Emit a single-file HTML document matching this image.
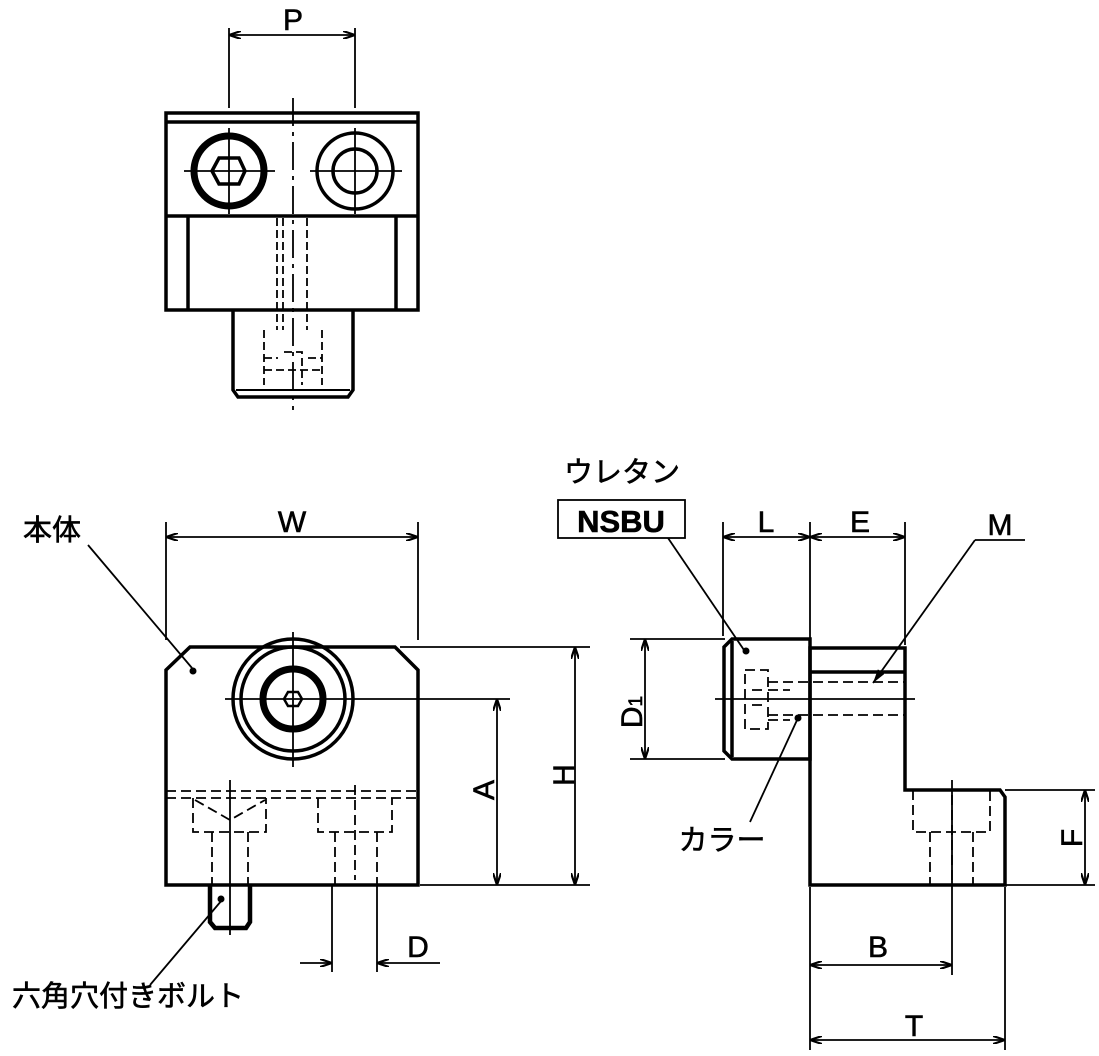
<!DOCTYPE html>
<html><head><meta charset="utf-8"><style>
html,body{margin:0;padding:0;background:#fff;}
svg{display:block;}
text{font-family:"Liberation Sans","Noto Sans CJK JP",sans-serif;fill:#000;stroke:#000;stroke-width:0.6;}
</style></head><body>
<svg width="1099" height="1056" viewBox="0 0 1099 1056" xmlns="http://www.w3.org/2000/svg">
<defs>
<marker id="a" viewBox="0 0 12 8" refX="12" refY="4" markerWidth="12" markerHeight="8" orient="auto-start-reverse" markerUnits="userSpaceOnUse">
<path d="M0,0 L12,4 L0,8" fill="none" stroke="#000" stroke-width="2.2"/></marker>
<marker id="f" viewBox="0 0 14 8" refX="14" refY="4" markerWidth="14" markerHeight="8" orient="auto" markerUnits="userSpaceOnUse">
<path d="M0,0 L14,4 L0,8z" fill="#000"/></marker>
</defs>
<g fill="none" stroke="#000">
<!-- TOP VIEW -->
<g stroke-width="1.8">
<line x1="229" y1="28" x2="229" y2="108"/><line x1="355" y1="28" x2="355" y2="108"/>
<line x1="229" y1="35" x2="355" y2="35" marker-start="url(#a)" marker-end="url(#a)"/>
<line x1="293" y1="98" x2="293" y2="410" stroke-dasharray="28,6,4,6"/>
<line x1="184" y1="171" x2="275" y2="171"/><line x1="229" y1="128" x2="229" y2="214"/>
<line x1="310" y1="171" x2="402" y2="171"/><line x1="355" y1="128" x2="355" y2="214"/>
</g>
<g stroke-width="3.5">
<rect x="166" y="113" width="252" height="197"/>
<line x1="166" y1="122" x2="418" y2="122"/>
<line x1="166" y1="216" x2="418" y2="216"/>
<line x1="188" y1="216" x2="188" y2="310"/><line x1="396" y1="216" x2="396" y2="310"/>
<circle cx="229" cy="171" r="35" stroke-width="7"/>
<polygon points="212,171 219,158 239,158 245,171 239,184 219,184"/>
<circle cx="355" cy="171" r="38"/><circle cx="355" cy="171" r="22"/>
<path d="M233,310 V390 L238,397 H348 L353,390 V310"/>
<line x1="236" y1="390" x2="350" y2="390" stroke-width="2"/>
</g>
<g stroke-width="1.8" stroke-dasharray="8,4">
<line x1="277" y1="218" x2="277" y2="330"/><line x1="307" y1="218" x2="307" y2="330"/>
<line x1="283" y1="218" x2="283" y2="330"/>
<path d="M264,330 V385 M322,330 V385 M264,358 H278 M308,358 H322 M284,352 H302 V385 M264,370 H322"/>
</g>
<!-- FRONT VIEW -->
<g stroke-width="1.8">
<line x1="166" y1="522" x2="166" y2="640"/><line x1="418" y1="522" x2="418" y2="640"/>
<line x1="166" y1="537" x2="418" y2="537" marker-start="url(#a)" marker-end="url(#a)"/>
<line x1="400" y1="647" x2="590" y2="647"/><line x1="420" y1="885" x2="590" y2="885"/>
<line x1="575" y1="647" x2="575" y2="885" marker-start="url(#a)" marker-end="url(#a)"/>
<line x1="225" y1="699" x2="510" y2="699"/>
<line x1="497" y1="699" x2="497" y2="885" marker-start="url(#a)" marker-end="url(#a)"/>
<line x1="293" y1="632" x2="293" y2="767"/>
<line x1="332" y1="885" x2="332" y2="972"/><line x1="377" y1="885" x2="377" y2="972"/>
<line x1="300" y1="963" x2="332" y2="963" marker-end="url(#a)"/>
<line x1="440" y1="963" x2="377" y2="963" marker-end="url(#a)"/>
<line x1="88" y1="545" x2="192" y2="668"/>
<line x1="150" y1="985" x2="222" y2="900"/>
<line x1="230" y1="780" x2="230" y2="935"/>
</g>
<circle cx="193" cy="671" r="3.5" fill="#000" stroke="none"/>
<circle cx="221" cy="899" r="3.5" fill="#000" stroke="none"/>
<g stroke-width="3.5">
<path d="M166,885 V670 L190,647 H395 L418,670 V885 Z"/>
<circle cx="293" cy="699" r="60"/><circle cx="293" cy="699" r="52"/>
<circle cx="293" cy="699" r="30" stroke-width="7"/>
<polygon points="284,699 288,692 298,692 302,699 298,706 288,706" stroke-width="2.5"/>
<path d="M210,885 V922 L215,928 H246 L250,922 V885" stroke-width="4.5"/>
</g>
<g stroke-width="1.8" stroke-dasharray="10,5">
<line x1="166" y1="791" x2="418" y2="791"/><line x1="166" y1="798" x2="418" y2="798"/>
<path d="M193,798 V832 H266 V798 M212,832 V885 M248,832 V885 M195,800 L230,820 L265,800"/>
<path d="M318,798 V832 H392 V798 M335,832 V885 M377,832 V885 M355,785 V880"/>
</g>
<!-- SIDE VIEW -->
<g stroke-width="1.8">
<line x1="723" y1="522" x2="723" y2="636"/><line x1="810" y1="522" x2="810" y2="645"/><line x1="905" y1="522" x2="905" y2="645"/>
<line x1="723" y1="537" x2="810" y2="537" marker-start="url(#a)" marker-end="url(#a)"/>
<line x1="810" y1="537" x2="905" y2="537" marker-start="url(#a)" marker-end="url(#a)"/>
<line x1="630" y1="639" x2="725" y2="639"/><line x1="630" y1="759" x2="725" y2="759"/>
<line x1="645" y1="639" x2="645" y2="759" marker-start="url(#a)" marker-end="url(#a)"/>
<line x1="715" y1="699" x2="915" y2="699"/>
<line x1="1005" y1="790" x2="1095" y2="790"/><line x1="1005" y1="885" x2="1095" y2="885"/>
<line x1="1085" y1="790" x2="1085" y2="885" marker-start="url(#a)" marker-end="url(#a)"/>
<line x1="810" y1="887" x2="810" y2="1050"/><line x1="952" y1="780" x2="952" y2="975"/><line x1="1005" y1="887" x2="1005" y2="1050"/>
<line x1="810" y1="965" x2="952" y2="965" marker-start="url(#a)" marker-end="url(#a)"/>
<line x1="810" y1="1040" x2="1005" y2="1040" marker-start="url(#a)" marker-end="url(#a)"/>
<line x1="1025" y1="540" x2="975" y2="540"/>
<line x1="975" y1="540" x2="873" y2="683" marker-end="url(#f)"/>
<line x1="668" y1="538" x2="744" y2="650"/>
<line x1="750" y1="822" x2="798" y2="718"/>
<rect x="558" y="500" width="127" height="38"/>
</g>
<circle cx="746" cy="651" r="3.5" fill="#000" stroke="none"/>
<circle cx="798" cy="718" r="3.5" fill="#000" stroke="none"/>
<g stroke-width="3.5">
<path d="M732,639 H810 V759 H732 L724,751 V647 Z"/>
<line x1="732" y1="641" x2="732" y2="757"/>
<path d="M810,648 H905 V790 H1000 L1005,797 V885 H810 Z"/>
<line x1="810" y1="672" x2="905" y2="672"/>
</g>
<g stroke-width="1.8" stroke-dasharray="10,5">
<path d="M745,670 H768 V729 H745 Z M768,682 H905 M768,715 H905 M768,690 H790 M768,720 H790 M752,690 H765 M752,705 H765"/>
<path d="M913,790 V832 H990 V790 M930,832 V885 M973,832 V885 M952,795 V880"/>
</g>
</g>
<!-- TEXT -->
<g font-size="30">
<text x="293" y="30" text-anchor="middle">P</text>
<text x="292" y="532" text-anchor="middle">W</text>
<text x="766" y="532" text-anchor="middle">L</text>
<text x="860" y="532" text-anchor="middle">E</text>
<text x="1000" y="535" text-anchor="middle">M</text>
<text x="418" y="957" text-anchor="middle">D</text>
<text x="878" y="957" text-anchor="middle">B</text>
<text x="914" y="1036" text-anchor="middle">T</text>
<text transform="translate(494,790) rotate(-90)" text-anchor="middle">A</text>
<text transform="translate(574,775) rotate(-90)" text-anchor="middle">H</text>
<text transform="translate(1082,838) rotate(-90)" text-anchor="middle">F</text>
<text transform="translate(642,712) rotate(-90)" text-anchor="middle">D<tspan font-size="19">1</tspan></text>
<text x="52" y="540" text-anchor="middle" font-size="29">本体</text>
<text x="622" y="482" text-anchor="middle" font-size="29">ウレタン</text>
<text x="722" y="850" text-anchor="middle" font-size="29">カラー</text>
<text x="128" y="1006" text-anchor="middle" font-size="29">六角穴付きボルト</text>
<text x="621" y="532" text-anchor="middle" font-weight="bold" font-size="31">NSBU</text>
</g>
</svg>
</body></html>
